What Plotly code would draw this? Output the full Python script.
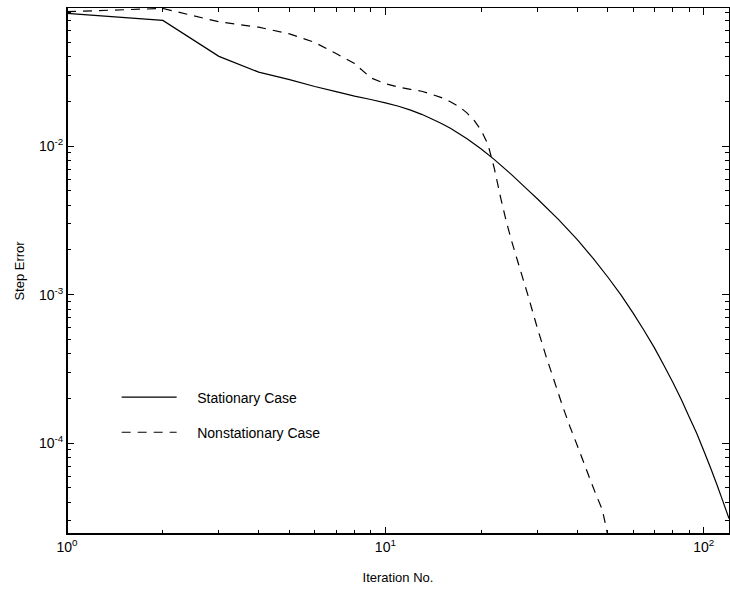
import plotly.graph_objects as go

# Stationary case
stat_x = [1, 2, 3, 4, 5, 6, 7, 8, 9, 10, 11, 12, 13, 14, 15, 16, 18, 20, 22, 25,
          28, 30, 35, 40, 45, 50, 55, 60, 65, 70, 75, 80, 85, 90, 95, 100, 105, 110, 115, 120]
stat_y = [0.0782, 0.0702, 0.0402, 0.0315, 0.028, 0.0252, 0.0233, 0.0217, 0.0206, 0.01954,
          0.01854, 0.01746, 0.01637, 0.01524, 0.01419, 0.01318, 0.01125, 0.00955, 0.00811, 0.00638,
          0.00507, 0.00442, 0.0032, 0.002355, 0.001746, 0.001309, 0.000991, 0.00075, 0.000571, 0.000438,
          0.000333, 0.000256, 0.000197, 0.000150, 0.0001167, 8.88e-5, 6.82e-5, 5.25e-5, 4.02e-5, 3.11e-5]

# Nonstationary case
non_x = [1, 2, 3, 4, 5, 6, 7, 8, 9, 10, 11, 12, 13, 14, 15, 16, 17, 18, 19, 20,
         21, 22, 23, 24, 25, 26, 28, 30, 32, 34, 36, 38, 40, 42, 44, 46, 48, 50, 52]
non_y = [0.0805, 0.0845, 0.0687, 0.0632, 0.057, 0.0499, 0.042, 0.036, 0.0288, 0.0263,
         0.0250, 0.0241, 0.0234, 0.0223, 0.0212, 0.0199, 0.0185, 0.0168, 0.0149, 0.01276,
         0.01026, 0.00703, 0.00452, 0.00308, 0.00224, 0.00169, 0.0010, 0.000597, 0.000381, 0.000258,
         0.000178, 0.000129, 9.7e-5, 7.37e-5, 5.66e-5, 4.43e-5, 3.57e-5, 2.37e-5, 1.6e-5]

x_tickvals = [1, 10, 100]
x_ticktext = ["10<sup>0</sup>", "10<sup>1</sup>", "10<sup>2</sup>"]
y_tickvals = [1e-4, 1e-3, 1e-2]
y_ticktext = ["10<sup>-4</sup>", "10<sup>-3</sup>", "10<sup>-2</sup>"]

x_minor = [2, 3, 4, 5, 6, 7, 8, 9, 20, 30, 40, 50, 60, 70, 80, 90]
y_minor = [3e-5, 4e-5, 5e-5, 6e-5, 7e-5, 8e-5, 9e-5,
           2e-4, 3e-4, 4e-4, 5e-4, 6e-4, 7e-4, 8e-4, 9e-4,
           2e-3, 3e-3, 4e-3, 5e-3, 6e-3, 7e-3, 8e-3, 9e-3,
           2e-2, 3e-2, 4e-2, 5e-2, 6e-2, 7e-2, 8e-2]

FONT = "Liberation Sans, Arial, sans-serif"
PAD = "\u00a0\u00a0\u00a0\u00a0"

fig = go.Figure()
fig.add_trace(go.Scatter(x=stat_x, y=stat_y, mode="lines", name=PAD + "Stationary Case",
                         line=dict(color="black", width=1.2, simplify=False), legendgroup="a"))
fig.add_trace(go.Scatter(x=non_x, y=non_y, mode="lines", name=PAD + "Nonstationary Case",
                         line=dict(color="black", width=1.2, dash="9px,7px", simplify=False),
                         legendgroup="b"))

axis_common = dict(
    type="log", showgrid=False, zeroline=False, showline=True, linecolor="black",
    linewidth=1, mirror="ticks", ticks="inside", ticklen=7, tickcolor="black",
    tickwidth=1, tickmode="array",
    tickfont=dict(family=FONT, size=14, color="black"),
)

fig.update_xaxes(**axis_common, range=[0, 2.0792],
                 tickvals=x_tickvals, ticktext=x_ticktext,
                 minor=dict(tickmode="array", tickvals=x_minor, ticks="inside",
                            ticklen=4, tickcolor="black", showgrid=False),
                 title=dict(text="Iteration No.", font=dict(family=FONT, size=13, color="black"),
                            standoff=19))
fig.update_yaxes(**axis_common, range=[-4.612, -1.07],
                 tickvals=y_tickvals, ticktext=y_ticktext,
                 minor=dict(tickmode="array", tickvals=y_minor, ticks="inside",
                            ticklen=4, tickcolor="black", showgrid=False),
                 title=dict(text="Step Error", font=dict(family=FONT, size=13, color="black"),
                            standoff=11))

# thicker left and bottom frame lines
fig.add_shape(type="line", xref="paper", yref="paper", x0=0, x1=0, y0=0, y1=1,
              line=dict(color="black", width=2))
fig.add_shape(type="line", xref="paper", yref="paper", x0=0, x1=1, y0=0, y1=0,
              line=dict(color="black", width=2))

fig.update_layout(
    width=730, height=592,
    margin=dict(l=67, r=1, t=8, b=58),
    paper_bgcolor="white", plot_bgcolor="white",
    font=dict(family=FONT, size=14, color="black"),
    showlegend=True,
    legend=dict(x=0.075, y=0.29, xanchor="left", yanchor="top",
                bgcolor="rgba(0,0,0,0)", borderwidth=0,
                font=dict(family=FONT, size=14, color="black"),
                traceorder="grouped", tracegroupgap=14, itemwidth=55),
)

fig.write_html("out.html", config={"displayModeBar": False},
               post_script="document.body.style.margin='0';")
